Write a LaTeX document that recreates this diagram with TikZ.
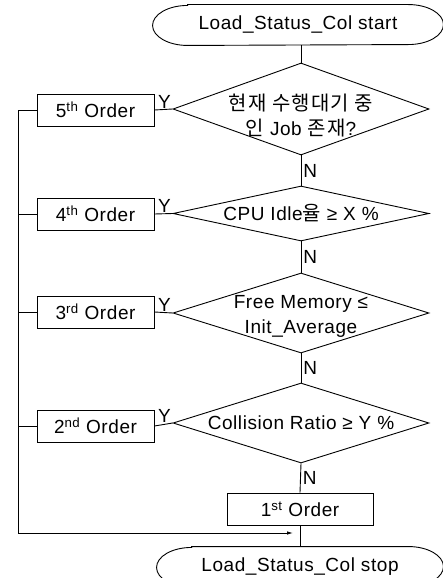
\documentclass[tikz,border=0pt]{standalone}
\usepackage{fontspec}
\setmainfont{Liberation Sans}[LetterSpace=3]
\newfontfamily\kr{Noto Sans CJK KR}[Scale=1.05,LetterSpace=6]
\usetikzlibrary{shapes,arrows.meta}

\begin{document}
\begin{tikzpicture}[x=1pt,y=-1pt,line width=0.9pt]
\tikzstyle{every node}=[font=\fontsize{19}{25}\selectfont]
\tikzstyle{term}=[rectangle,minimum height=40pt]
\tikzstyle{test}=[diamond,draw,inner sep=0pt,minimum width=256pt]
\tikzstyle{order}=[rectangle,draw,minimum width=117pt,minimum height=32pt]
\tikzstyle{yes}=[above,inner sep=1pt,pos=0.45]
\tikzstyle{no}=[right,inner sep=2pt]
\useasboundingbox (0,0) rectangle (443,578);
% terminals
\node[term,minimum width=290pt] (start) at (298,25) {Load\_Status\_Col start};
\node[term,minimum width=286pt] (stop) at (300,567) {Load\_Status\_Col stop};
\foreach \t in {start,stop}
  \draw ([xshift=35pt]\t.north west) -- ([xshift=-35pt]\t.north east)
    arc[start angle=90,end angle=-90,x radius=35pt,y radius=20pt]
    -- ([xshift=35pt]\t.south west)
    arc[start angle=270,end angle=90,x radius=35pt,y radius=20pt] -- cycle;
% tests
\node[test,minimum height=92pt,label={[align=center,yshift=-7pt]center:{\kr 현재 수행대기 중}\\{\kr 인} Job {\kr 존재}?}] (d1) at (301,109) {};
\node[test,minimum height=55pt,label={center:CPU Idle{\kr 율} ≥ X \%}] (d2) at (301,213.5) {};
\node[test,minimum height=80pt,label={[align=center,yshift=-3pt]center:Free Memory ≤\\Init\_Average}] (d3) at (301,313) {};
\node[test,minimum height=80pt,label={center:Collision Ratio ≥ Y \%}] (d4) at (301,423) {};
% orders
\node[order] (o5) at (95.5,110) {5\textsuperscript{th} Order};
\node[order] (o4) at (95.5,214) {4\textsuperscript{th} Order};
\node[order] (o3) at (95.5,312) {3\textsuperscript{rd} Order};
\node[order] (o2) at (95.5,426) {2\textsuperscript{nd} Order};
\node[order,minimum width=146pt] (o1) at (300,509) {1\textsuperscript{st} Order};
\coordinate (back) at (18,533);
\coordinate (tip) at (293,533);
% flow
\draw (d1.north) -- (d1.north |- start.south);
\draw (d1.south) -- node[no]{N} (d2.north);
\draw (d2.south) -- node[no]{N} (d3.north);
\draw (d3.south) -- node[no]{N} (d4.north);
\draw (d4.south) -- node[no]{N} (o1.north);
\draw (o1.south) -- (o1.south |- stop.north);
\draw (d1.west) -- node[yes]{Y} (o5.east);
\draw (d2.west) -- node[yes]{Y} (o4.east);
\draw (d3.west) -- node[yes]{Y} (o3.east);
\draw (d4.west) -- node[yes]{Y} (o2.east);
\draw (o5.west) -| (back);
\foreach \o in {o4,o3,o2}
  \draw (\o.west) -- (\o.west -| back);
\draw[-{Latex[length=6pt,width=3.5pt]}] (back) -- (tip);
\end{tikzpicture}
\end{document}
